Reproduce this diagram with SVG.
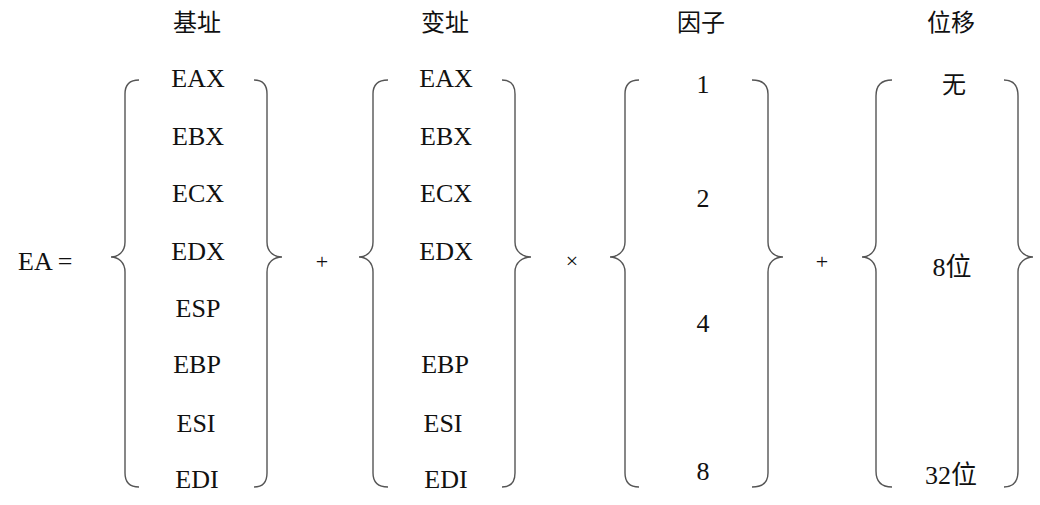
<svg xmlns="http://www.w3.org/2000/svg" width="1040" height="505" viewBox="0 0 1040 505">
<style>
.t{font-family:'Liberation Serif','Noto Sans CJK SC',serif;font-size:26px;fill:#111;text-anchor:middle}
.h{font-family:'Liberation Serif','Noto Sans CJK SC',serif;font-size:24px;fill:#111;text-anchor:middle}
.op{font-family:'Liberation Serif',serif;font-size:22px;fill:#111;text-anchor:middle}
.b{fill:none;stroke:#555;stroke-width:1.4}
</style>
<rect width="1040" height="505" fill="#fff"/>
<g id="headers">
<text class="h" x="197" y="31">基址</text>
<text class="h" x="445" y="31">变址</text>
<text class="h" x="701" y="31">因子</text>
<text class="h" x="951" y="31">位移</text>
</g>
<g id="lhs">
<text class="t" x="18" y="270" style="text-anchor:start">EA =</text>
</g>
<g id="base">
<text class="t" x="198" y="87">EAX</text>
<text class="t" x="198" y="145">EBX</text>
<text class="t" x="198" y="202">ECX</text>
<text class="t" x="198" y="260">EDX</text>
<text class="t" x="198" y="317">ESP</text>
<text class="t" x="197" y="373">EBP</text>
<text class="t" x="196" y="432">ESI</text>
<text class="t" x="197" y="488">EDI</text>
</g>
<g id="index">
<text class="t" x="446" y="87">EAX</text>
<text class="t" x="446" y="145">EBX</text>
<text class="t" x="446" y="202">ECX</text>
<text class="t" x="446" y="260">EDX</text>
<text class="t" x="445" y="373">EBP</text>
<text class="t" x="443" y="432">ESI</text>
<text class="t" x="446" y="488">EDI</text>
</g>
<g id="scale">
<text class="t" x="703" y="93">1</text>
<text class="t" x="703" y="207">2</text>
<text class="t" x="703" y="332">4</text>
<text class="t" x="703" y="480">8</text>
</g>
<g id="disp">
<text class="h" x="954" y="93">无</text>
<text class="t" x="952" y="276">8位</text>
<text class="t" x="951" y="484">32位</text>
</g>
<g id="operators">
<text class="op" x="322" y="269">+</text>
<text class="op" x="572" y="268">×</text>
<text class="op" x="822" y="269">+</text>
</g>
<g id="braces">
<path class="b" d="M139,80 Q125,80 125,94 L125,242 C125,252 118,257 111,257 C118,257 125,262 125,272 L125,473 Q125,487 139,487"/>
<path class="b" d="M254,80 Q267,80 267,94 L267,242 C267,252 274,257 282,257 C274,257 267,262 267,272 L267,473 Q267,487 254,487"/>
<path class="b" d="M388,80 Q373,80 373,94 L373,242 C373,252 366,257 359,257 C366,257 373,262 373,272 L373,473 Q373,487 388,487"/>
<path class="b" d="M502,80 Q515,80 515,94 L515,242 C515,252 523,257 531,257 C523,257 515,262 515,272 L515,473 Q515,487 502,487"/>
<path class="b" d="M639,80 Q625,80 625,94 L625,242 C625,252 617,257 610,257 C617,257 625,262 625,272 L625,473 Q625,487 639,487"/>
<path class="b" d="M752,80 Q768,80 768,94 L768,242 C768,252 775,257 783,257 C775,257 768,262 768,272 L768,473 Q768,487 752,487"/>
<path class="b" d="M892,80 Q876,80 876,96 L876,242 C876,252 869,257 862,257 C869,257 876,262 876,272 L876,471 Q876,487 892,487"/>
<path class="b" d="M1004,80 Q1018,80 1018,96 L1018,242 C1018,252 1026,257 1033,257 C1026,257 1018,262 1018,272 L1018,471 Q1018,487 1004,487"/>
</g>
</svg>
